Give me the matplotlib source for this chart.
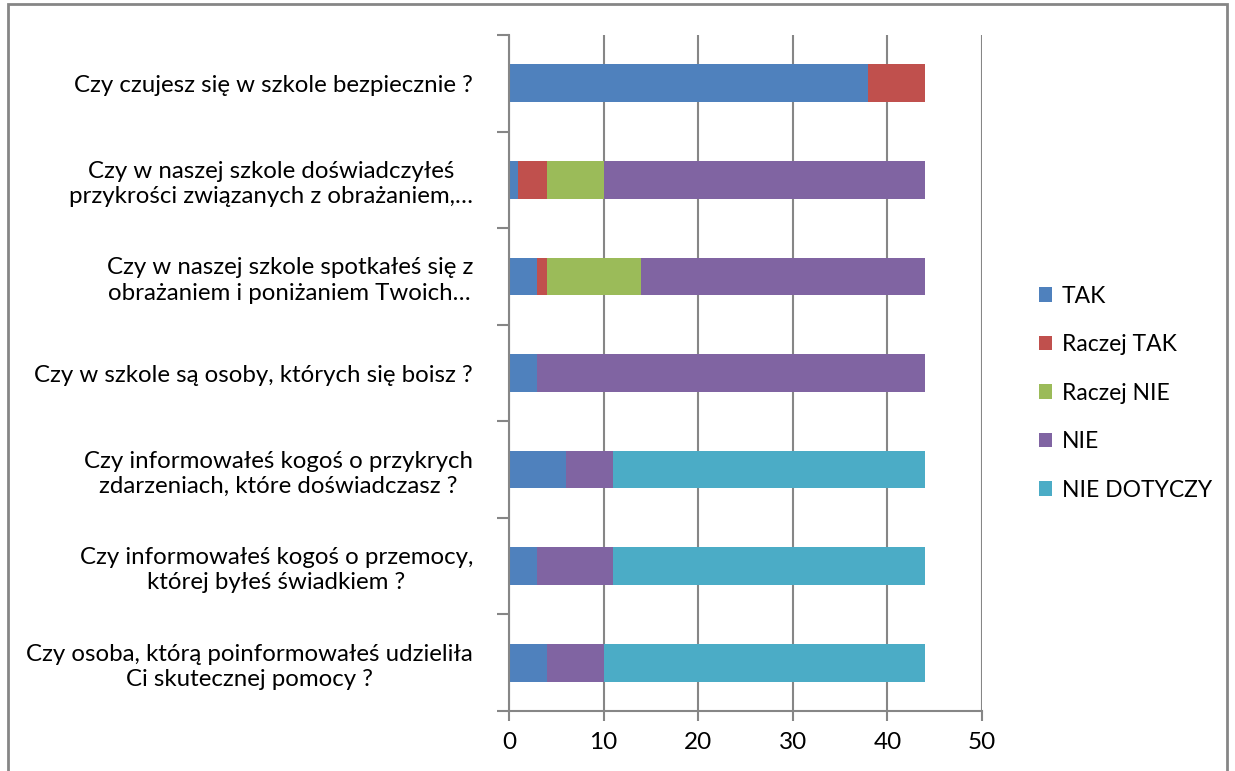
import matplotlib
matplotlib.use("Agg")
import matplotlib.pyplot as plt
from matplotlib.patches import Rectangle
import numpy as np

categories = [
    "Czy czujesz się w szkole bezpiecznie ?",
    "Czy w naszej szkole doświadczyłeś\nprzykrości związanych z obrażaniem,…",
    "Czy w naszej szkole spotkałeś się z\nobrażaniem i poniżaniem Twoich…",
    "Czy w szkole są osoby, których się boisz ?",
    "Czy informowałeś kogoś o przykrych\nzdarzeniach, które doświadczasz ?",
    "Czy informowałeś kogoś o przemocy,\nktórej byłeś świadkiem ?",
    "Czy osoba, którą poinformowałeś udzieliła\nCi skutecznej pomocy ?",
]
series_names = ["TAK", "Raczej TAK", "Raczej NIE", "NIE", "NIE DOTYCZY"]
tak = [38, 1, 3, 3, 6, 3, 4]
raczej_tak = [6, 3, 1, 0, 0, 0, 0]
raczej_nie = [0, 6, 10, 0, 0, 0, 0]
nie = [0, 34, 30, 41, 5, 8, 6]
nie_dotyczy = [0, 0, 0, 0, 33, 33, 34]
colors = ["#4F81BD", "#C0504D", "#9BBB59", "#8064A2", "#4BACC6"]
x_ticks = [0, 10, 20, 30, 40, 50]

plt.rcParams['font.family'] = ['Lato', 'DejaVu Sans']

fig = plt.figure(figsize=(12.35, 7.71), dpi=100)
ax = fig.add_axes([509/1235, 1-711/771, (982-509)/1235, (711-35)/771])

y = np.arange(len(categories))
left = np.zeros(len(categories))
for name, vals, c in zip(series_names, [tak, raczej_tak, raczej_nie, nie, nie_dotyczy], colors):
    ax.barh(y, vals, left=left, height=0.39, color=c, label=name, zorder=3)
    left += np.array(vals)

ax.set_ylim(len(categories) - 0.5, -0.5)
ax.set_xlim(0, 50)
ax.set_xticks(x_ticks)
ax.set_xticklabels([str(t) for t in x_ticks], fontsize=17.5)
ax.xaxis.grid(True, color="#868686", linewidth=1.5, zorder=0)
ax.set_yticks(y)
ax.set_yticklabels(categories, fontsize=17.3, multialignment='center', linespacing=1.25)
ax.set_yticks(np.arange(len(categories) + 1) - 0.5, minor=True)
ax.tick_params(axis='y', which='major', length=0, pad=26)
ax.tick_params(axis='y', which='minor', length=9, width=1.5, color="#868686", direction='out')
ax.tick_params(axis='x', which='major', length=7, width=1.5, color="#868686", direction='out', pad=8)
for s in ['top', 'right']:
    ax.spines[s].set_visible(False)
for s in ['left', 'bottom']:
    ax.spines[s].set_color("#868686")
    ax.spines[s].set_linewidth(1.5)
ax.spines['left'].set_zorder(4)

leg = fig.legend(loc='upper left', bbox_to_anchor=(1018/1235, 1-265/771), frameon=False,
                 fontsize=16.5, handlelength=0.6, handleheight=0.6, labelspacing=1.2,
                 handletextpad=0.4)

fig.patches.append(Rectangle((8/1235, -0.02), (1227-8)/1235, 1.02-4.5/771,
                             transform=fig.transFigure, fill=False,
                             edgecolor="#868686", linewidth=2))

fig.savefig("out.png", dpi=100, facecolor="white")
